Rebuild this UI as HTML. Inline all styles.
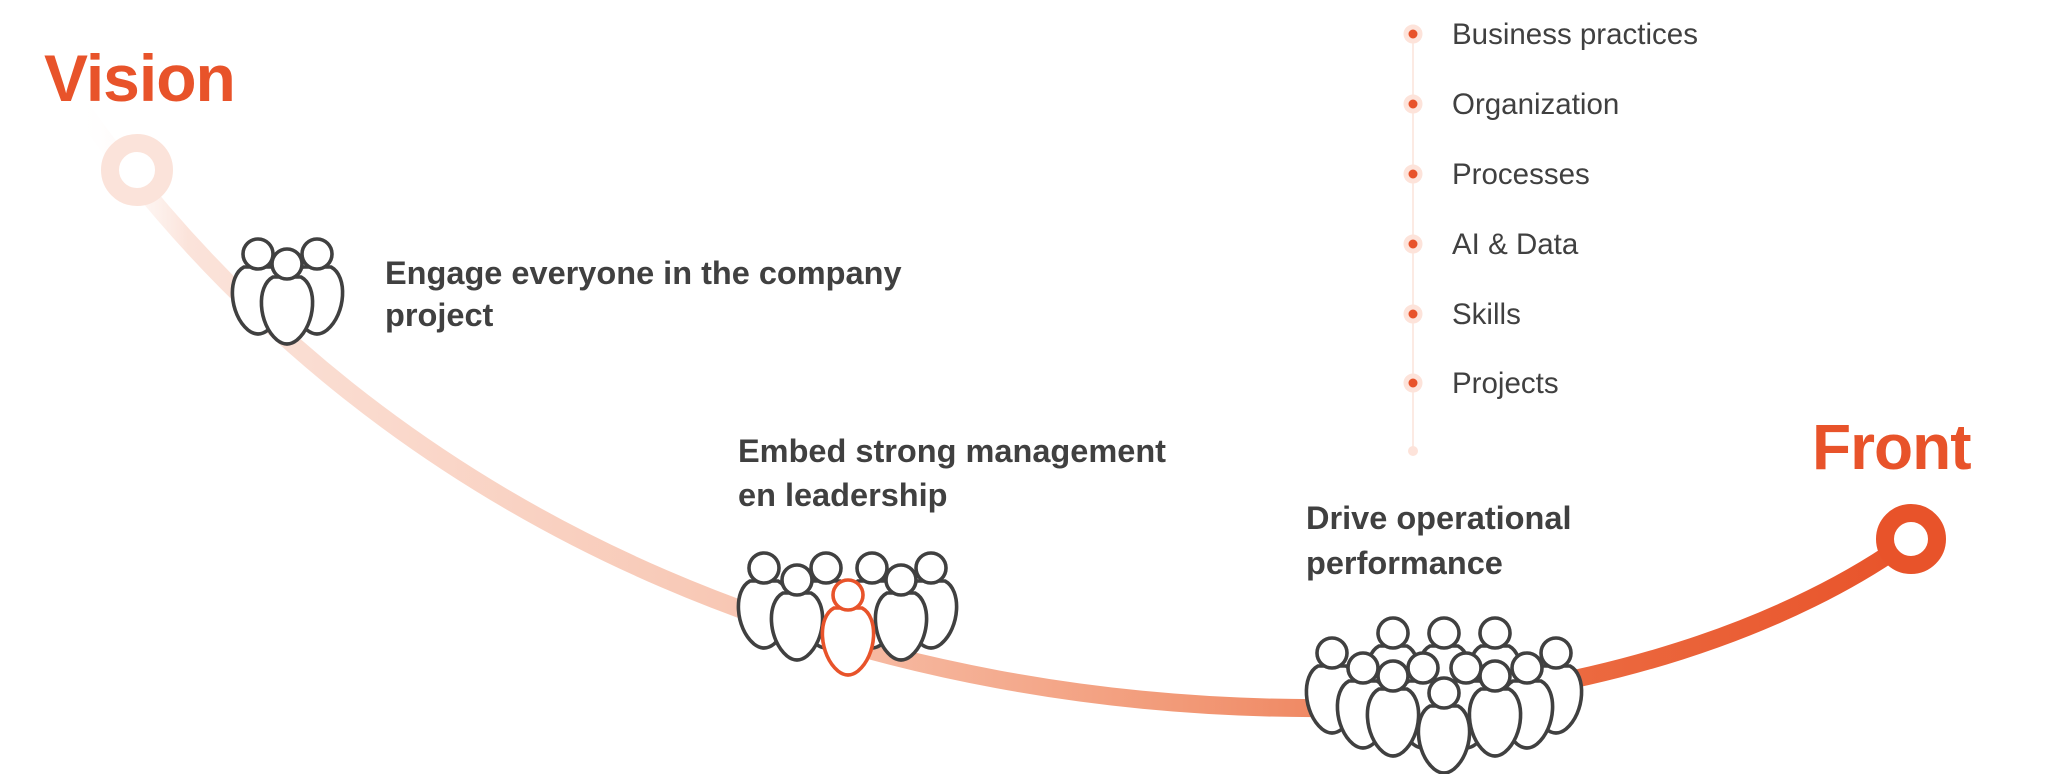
<!DOCTYPE html>
<html><head><meta charset="utf-8"><style>
html,body{margin:0;padding:0;background:#fff;}
body{width:2048px;height:774px;overflow:hidden;position:relative;font-family:"Liberation Sans",sans-serif;}
</style></head><body>
<svg width="2048" height="774" viewBox="0 0 2048 774" xmlns="http://www.w3.org/2000/svg" style="position:absolute;left:0;top:0">
<defs>
<linearGradient id="g" gradientUnits="userSpaceOnUse" x1="78" y1="0" x2="1911" y2="0">
<stop offset="0" stop-color="#fff" stop-opacity="0"/>
<stop offset="0.06" stop-color="#fbe3da"/>
<stop offset="0.35" stop-color="#f8c8b5"/>
<stop offset="0.6" stop-color="#f29a78"/>
<stop offset="0.8" stop-color="#ec6c42"/>
<stop offset="1" stop-color="#e8532a"/>
</linearGradient>
<g id="p"><path d="M-14,13 C-31,22 -29,60 -10,76 Q0,84 10,76 C29,60 31,22 14,13 Z" fill="#fff" stroke="#404040" stroke-width="3.6"/><circle cx="0" cy="0" r="15" fill="#fff" stroke="#404040" stroke-width="3.6"/></g>
<g id="po"><path d="M-14,13 C-31,22 -29,60 -10,76 Q0,84 10,76 C29,60 31,22 14,13 Z" fill="#fff" stroke="#e8532a" stroke-width="3.6"/><circle cx="0" cy="0" r="15" fill="#fff" stroke="#e8532a" stroke-width="3.6"/></g>
</defs>
<path d="M78,104 C400,560 900,712 1330,708 C1600,700 1800,620 1911,539" fill="none" stroke="url(#g)" stroke-width="18"/>
<circle cx="137" cy="170" r="27" fill="#fff" stroke="#fbe3da" stroke-width="18"/>
<circle cx="1911" cy="539" r="26" fill="#fff" stroke="#e8532a" stroke-width="18"/>
<text x="44" y="101" font-family="Liberation Sans" font-weight="bold" font-size="66" fill="#e8532a" letter-spacing="-1">Vision</text>
<text x="1812" y="469" font-family="Liberation Sans" font-weight="bold" font-size="64" fill="#e8532a" letter-spacing="-1">Front</text>
<!-- icon 1 -->
<use href="#p" x="258" y="254"/><use href="#p" x="317" y="254"/><use href="#p" x="287" y="264"/>
<!-- icon 2 -->
<use href="#p" x="764" y="568"/><use href="#p" x="826" y="568"/><use href="#p" x="872" y="568"/><use href="#p" x="931" y="568"/>
<use href="#p" x="797" y="580"/><use href="#p" x="901" y="580"/>
<use href="#po" x="848" y="595"/>
<!-- crowd -->
<use href="#p" x="1393" y="633"/><use href="#p" x="1444" y="633"/><use href="#p" x="1495" y="633"/>
<use href="#p" x="1332" y="653"/><use href="#p" x="1556" y="653"/>
<use href="#p" x="1423" y="668"/><use href="#p" x="1466" y="668"/>
<use href="#p" x="1363" y="668"/><use href="#p" x="1527" y="668"/>
<use href="#p" x="1393" y="676"/><use href="#p" x="1495" y="676"/>
<use href="#p" x="1444" y="693"/>
<g font-family="Liberation Sans" font-weight="bold" font-size="32.5" fill="#404040">
<text x="385" y="284">Engage everyone in the company</text>
<text x="385" y="326">project</text>
<text x="738" y="462">Embed strong management</text>
<text x="738" y="506">en leadership</text>
<text x="1306" y="529">Drive operational</text>
<text x="1306" y="574">performance</text>
</g>
<line x1="1413" y1="34" x2="1413" y2="451" stroke="#fbe3da" stroke-width="1.5"/>
<g fill="#e8532a" stroke="#fde3da" stroke-width="5">
<circle cx="1413" cy="34" r="7"/><circle cx="1413" cy="104" r="7"/><circle cx="1413" cy="174" r="7"/>
<circle cx="1413" cy="244" r="7"/><circle cx="1413" cy="314" r="7"/><circle cx="1413" cy="383" r="7"/>
</g>
<circle cx="1413" cy="451" r="5" fill="#fde3da"/>
<g font-family="Liberation Sans" font-size="29.5" fill="#404040">
<text x="1452" y="44">Business practices</text>
<text x="1452" y="114">Organization</text>
<text x="1452" y="184">Processes</text>
<text x="1452" y="254">AI &amp; Data</text>
<text x="1452" y="324">Skills</text>
<text x="1452" y="393">Projects</text>
</g>
</svg>
</body></html>
